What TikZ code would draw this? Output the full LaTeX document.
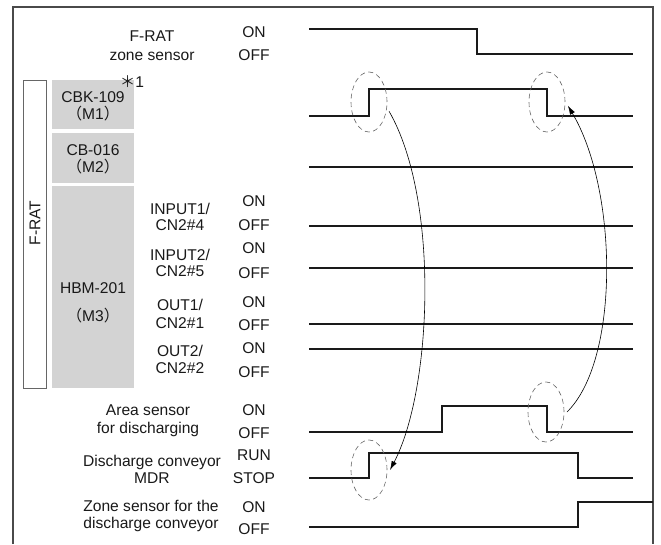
\documentclass[tikz,border=0pt]{standalone}
\usepackage{fontspec}
\setmainfont{Liberation Sans}
\newfontfamily\cjkfont{Noto Sans CJK JP}
\newcommand{\lpar}{{\cjkfont （}}
\newcommand{\rpar}{{\cjkfont ）}}
\usetikzlibrary{arrows.meta,shapes.geometric}
\definecolor{boxgray}{HTML}{D3D3D3}
\definecolor{framec}{HTML}{4A4A4A}
\definecolor{sigc}{HTML}{1A1A1A}
\begin{document}
\begin{tikzpicture}[x=1pt,y=-1pt,
  txt/.style={font=\fontsize{15.6}{17}\selectfont, inner sep=0pt, align=center, text=black!90},
  sig/.style={draw=sigc, line width=2.4pt, line join=miter},
  graybox/.style={fill=boxgray, draw=none, minimum width=82pt, inner sep=0pt},
  dellipse/.style={ellipse, draw=black!60, dash pattern=on 5pt off 3.5pt, line width=0.6pt, minimum width=36pt, minimum height=60pt, inner sep=0pt, outer sep=3pt},
  arr/.style={draw=black, line width=0.6pt, -{Latex[length=9pt,width=5.5pt]}}]
\useasboundingbox (0,0) rectangle (661,544);

% frame
\draw[framec, line width=1.3pt] (13,544) -- (13,7) -- (653,7) -- (653,544);

% gray module boxes
\node[graybox, minimum height=49pt] (m1) at (93,104.5) {};
\node[graybox, minimum height=50pt] (m2) at (93,158) {};
\node[graybox, minimum height=202pt] (m3) at (93,287) {};
\node[txt] (m1t) at (93,106) {CBK-109\\\lpar M1\rpar};
\node[txt] (m2t) at (93,159) {CB-016\\\lpar M2\rpar};
\node[txt, font=\fontsize{15.6}{28}\selectfont] (m3t) at (93,303) {HBM-201\\\lpar M3\rpar};
\node[txt] (star) at (132,82) {{\cjkfont ＊}1};

% F-RAT outline box
\node[draw=black!60, line width=0.8pt, minimum width=23pt, minimum height=308pt, inner sep=0pt] (frat) at (34.5,234) {};
\node[txt, rotate=90] (fratt) at (35,223) {F-RAT};

% left labels
\node[txt, font=\fontsize{15.6}{19}\selectfont] (l1) at (152,45.5) {F-RAT\\zone sensor};
\node[txt, font=\fontsize{15.6}{16.5}\selectfont] (l4) at (180,217) {INPUT1/\\CN2\#4};
\node[txt, font=\fontsize{15.6}{16.5}\selectfont] (l5) at (180,263) {INPUT2/\\CN2\#5};
\node[txt, font=\fontsize{15.6}{17.5}\selectfont] (l6) at (180,314) {OUT1/\\CN2\#1};
\node[txt, font=\fontsize{15.6}{17.5}\selectfont] (l7) at (180,359.5) {OUT2/\\CN2\#2};
\node[txt, font=\fontsize{15.6}{18}\selectfont] (l8) at (148,421) {Area sensor\\for discharging};
\node[txt, font=\fontsize{15.6}{17}\selectfont] (l9) at (152,469.5) {Discharge conveyor\\MDR};
\node[txt, font=\fontsize{15.6}{17}\selectfont] (l10) at (151,515.5) {Zone sensor for the\\discharge conveyor};

% state labels
\foreach \n/\t/\y in {a/ON/32, b/OFF/55, c/ON/201, d/OFF/225, e/ON/248, f/OFF/273,
  g/ON/302, h/OFF/325, i/ON/348, j/OFF/372, k/ON/410, l/OFF/433,
  m/RUN/455, n/STOP/478, o/ON/507, p/OFF/529}
  \node[txt] (s\n) at (254,\y) {\t};

% signals
\draw[sig] (309,29) -- (477,29) -- (477,54) -- (633,54);
\draw[sig] (309,116) -- (369,116) -- (369,89) -- (547,89) -- (547,116) -- (633,116);
\draw[sig] (309,167) -- (633,167);
\draw[sig] (309,226) -- (633,226);
\draw[sig] (309,268) -- (633,268);
\draw[sig] (309,324) -- (633,324);
\draw[sig] (309,349) -- (633,349);
\draw[sig] (309,432) -- (442,432) -- (442,406) -- (547,406) -- (547,432) -- (633,432);
\draw[sig] (309,478) -- (369,478) -- (369,453) -- (578,453) -- (578,478) -- (633,478);
\draw[sig] (309,527) -- (578,527) -- (578,502) -- (653,502);

% dashed ellipses
\node[dellipse] (e1) at (369,102) {};
\node[dellipse] (e2) at (547,102) {};
\node[dellipse] (e3) at (546,412) {};
\node[dellipse] (e4) at (369,470) {};

% arrows
\draw[arr] (e1.-25) .. controls (440,200) and (432,390) .. (e4.east);
\draw[arr] (e3.east) .. controls (620,360) and (618,190) .. (e2.-10);
\end{tikzpicture}
\end{document}
